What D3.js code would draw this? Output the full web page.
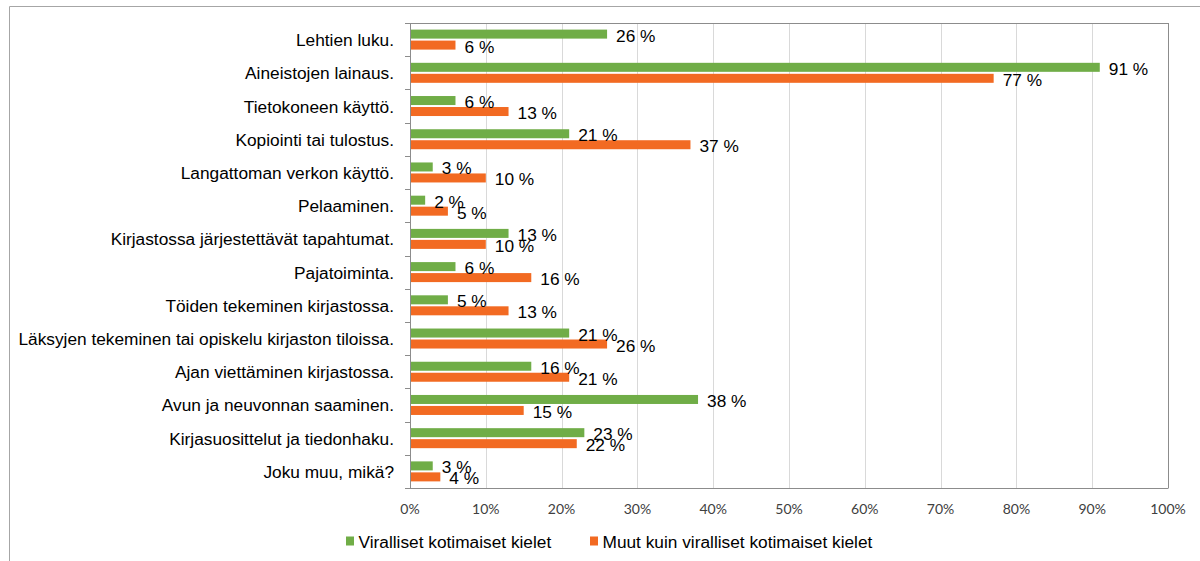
<!DOCTYPE html>
<html>
<head>
<meta charset="utf-8">
<script src="https://cdn.jsdelivr.net/npm/d3@7/dist/d3.min.js"></script>
<style>
  html, body { margin: 0; padding: 0; background: #fff; }
  svg { display: block; }
</style>
</head>
<body>
<svg id="chart" width="1200" height="561"></svg>
<script>
const categories = [
  "Lehtien luku.",
  "Aineistojen lainaus.",
  "Tietokoneen käyttö.",
  "Kopiointi tai tulostus.",
  "Langattoman verkon käyttö.",
  "Pelaaminen.",
  "Kirjastossa järjestettävät tapahtumat.",
  "Pajatoiminta.",
  "Töiden tekeminen kirjastossa.",
  "Läksyjen tekeminen tai opiskelu kirjaston tiloissa.",
  "Ajan viettäminen kirjastossa.",
  "Avun ja neuvonnan saaminen.",
  "Kirjasuosittelut ja tiedonhaku.",
  "Joku muu, mikä?"
];
const seriesNames = ["Viralliset kotimaiset kielet", "Muut kuin viralliset kotimaiset kielet"];
const official = [26, 91, 6, 21, 3, 2, 13, 6, 5, 21, 16, 38, 23, 3];
const other = [6, 77, 13, 37, 10, 5, 10, 16, 13, 26, 21, 15, 22, 4];
const xTicks = [0, 10, 20, 30, 40, 50, 60, 70, 80, 90, 100];
const colors = ["#70AD47", "#F26A22"];

const svg = d3.select("#chart");
const pLeft = 410, pRight = 1168, pTop = 23, pBottom = 488;
const FS = 17.3;

// outer frame (only left and top visible)
svg.append("line").attr("x1", 9.5).attr("x2", 9.5).attr("y1", 6.5).attr("y2", 561).attr("stroke", "#a6a6a6").attr("stroke-width", 1);
svg.append("line").attr("x1", 9.5).attr("x2", 1200).attr("y1", 6.5).attr("y2", 6.5).attr("stroke", "#a6a6a6").attr("stroke-width", 1);

const x = d3.scaleLinear().domain([0, 100]).range([pLeft, pRight]);
const y0 = d3.scaleBand().domain(categories).range([pTop, pBottom]).padding(0);
const inner = d3.scaleBand().domain(seriesNames).range([6.6, 26.6]).paddingInner(0.18);

// gridlines
svg.append("g").selectAll("line").data(xTicks.filter(t => t > 0 && t < 100)).join("line")
  .attr("x1", d => Math.round(x(d)) + 0.5).attr("x2", d => Math.round(x(d)) + 0.5)
  .attr("y1", pTop).attr("y2", pBottom)
  .attr("stroke", "#d9d9d9").attr("stroke-width", 1);

// plot border top/right
svg.append("line").attr("x1", pLeft).attr("x2", pRight + 0.5).attr("y1", pTop + 0.5).attr("y2", pTop + 0.5).attr("stroke", "#8c8c8c");
svg.append("line").attr("x1", pRight + 0.5).attr("x2", pRight + 0.5).attr("y1", pTop).attr("y2", pBottom).attr("stroke", "#8c8c8c");

// bars
const data = categories.map((c, i) => ({ cat: c, vals: [official[i], other[i]] }));
const groups = svg.append("g").selectAll("g").data(data).join("g")
  .attr("transform", d => `translate(0,${y0(d.cat)})`);

groups.selectAll("rect").data(d => d.vals.map((v, j) => ({ v, s: seriesNames[j], j }))).join("rect")
  .attr("x", x(0))
  .attr("y", d => inner(d.s))
  .attr("width", d => x(d.v) - x(0))
  .attr("height", inner.bandwidth())
  .attr("fill", d => colors[d.j]);

groups.selectAll("text").data(d => d.vals.map((v, j) => ({ v, s: seriesNames[j], j }))).join("text")
  .attr("x", d => x(d.v) + 9)
  .attr("y", d => inner(d.s) + inner.bandwidth() / 2 + 1.5)
  .attr("dominant-baseline", "central")
  .attr("font-family", "Liberation Sans, Arial, sans-serif")
  .attr("font-size", FS)
  .attr("fill", "#000")
  .text(d => d.v + " %");

// y axis
const yAxis = svg.append("g");
yAxis.append("line").attr("x1", pLeft + 0.5).attr("x2", pLeft + 0.5).attr("y1", pTop).attr("y2", pBottom).attr("stroke", "#8c8c8c");
const boundaries = categories.map(c => y0(c)).concat([pBottom]);
yAxis.selectAll("line.tick").data(boundaries).join("line").attr("class", "tick")
  .attr("x1", pLeft - 5).attr("x2", pLeft).attr("y1", d => Math.round(d) + 0.5).attr("y2", d => Math.round(d) + 0.5)
  .attr("stroke", "#8c8c8c");
yAxis.selectAll("text").data(categories).join("text")
  .attr("x", 394)
  .attr("y", d => y0(d) + y0.bandwidth() / 2 + 0.5)
  .attr("text-anchor", "end")
  .attr("dominant-baseline", "central")
  .attr("font-family", "Liberation Sans, Arial, sans-serif")
  .attr("font-size", FS)
  .attr("fill", "#000")
  .text(d => d);

// x axis
const xAxis = svg.append("g");
xAxis.append("line").attr("x1", pLeft).attr("x2", pRight + 0.5).attr("y1", pBottom + 0.5).attr("y2", pBottom + 0.5).attr("stroke", "#8c8c8c");
xAxis.selectAll("text").data(xTicks).join("text")
  .attr("x", d => x(d))
  .attr("y", 508)
  .attr("text-anchor", "middle")
  .attr("dominant-baseline", "central")
  .attr("font-family", "Lato, sans-serif")
  .attr("font-size", 14)
  .attr("fill", "#404040")
  .text(d => d + "%");

// legend
const legendX = [346, 590];
const lg = svg.append("g").selectAll("g").data(seriesNames).join("g")
  .attr("transform", (d, i) => `translate(${legendX[i]},541)`);
lg.append("rect").attr("x", 0).attr("y", -4.5).attr("width", 8).attr("height", 9).attr("fill", (d, i) => colors[i]);
lg.append("text").attr("x", 12.5).attr("y", 0.5)
  .attr("dominant-baseline", "central")
  .attr("font-family", "Liberation Sans, Arial, sans-serif")
  .attr("font-size", FS)
  .attr("fill", "#000")
  .text(d => d);
</script>
</body>
</html>
